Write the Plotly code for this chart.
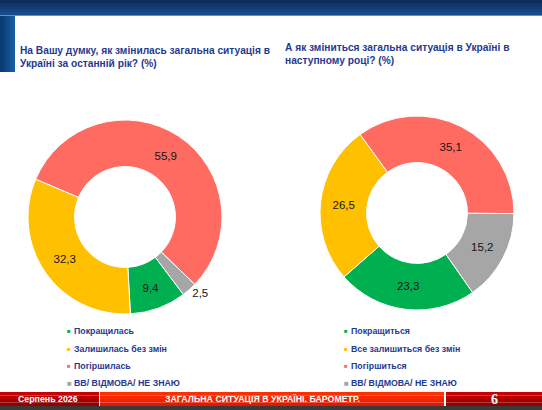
import plotly.graph_objects as go

W, H = 542, 410

# Data
labels_left = ["Покращилась", "Залишилась без змін", "Погіршилась", "ВВ/ ВІДМОВА/ НЕ ЗНАЮ"]
values_left = [9.4, 32.3, 55.9, 2.5]
labels_right = ["Покращиться", "Все залишиться без змін", "Погіршиться", "ВВ/ ВІДМОВА/ НЕ ЗНАЮ"]
values_right = [23.3, 26.5, 35.1, 15.2]
colors = ["#00B050", "#FFC000", "#FF6B61", "#A6A6A6"]

title_left = "На Вашу думку, як змінилась загальна ситуація в<br>Україні за останній рік? (%)"
title_right = "А як зміниться загальна ситуація в Україні в<br>наступному році? (%)"
footer_left = "Серпень 2026"
footer_mid = "ЗАГАЛЬНА СИТУАЦІЯ В УКРАЇНІ. БАРОМЕТР."
page_num = "6"

FONT = "Liberation Sans, Arial, sans-serif"
NAVY = "#1F3A8F"


def px(x):
    return x / W


def py(y):
    return 1 - y / H


def fmt(v):
    return f"{v:.1f}".replace(".", ",")


fig = go.Figure()

fig.add_trace(go.Pie(
    labels=labels_left, values=values_left, sort=False,
    direction="clockwise", rotation=143, hole=0.52,
    marker=dict(colors=colors, line=dict(color="white", width=1)),
    text=[fmt(v) for v in values_left], textinfo="text",
    textposition=["inside", "inside", "inside", "outside"],
    insidetextorientation="horizontal",
    textfont=dict(family=FONT, size=11.5, color="#151515"),
    domain=dict(x=[px(28), px(222)], y=[py(314), py(120)]),
    hoverinfo="label+value",
))

fig.add_trace(go.Pie(
    labels=labels_right, values=values_right, sort=False,
    direction="clockwise", rotation=145, hole=0.52,
    marker=dict(colors=colors, line=dict(color="white", width=1)),
    text=[fmt(v) for v in values_right], textinfo="text",
    textposition="inside",
    insidetextorientation="horizontal",
    textfont=dict(family=FONT, size=11.5, color="#151515"),
    domain=dict(x=[px(320), px(514)], y=[py(310), py(116)]),
    hoverinfo="label+value",
))

shapes = []


def rect(x0, y0, x1, y1, color):
    shapes.append(dict(type="rect", xref="paper", yref="paper",
                       x0=px(x0), x1=px(x1), y0=py(y1), y1=py(y0),
                       fillcolor=color, line=dict(width=0), layer="above"))


# header bar (rough gradient with stripes)
header_cols = ["#0b2d5a", "#0e3566", "#113d72", "#14457e", "#174d8a"]
for i, c in enumerate(header_cols):
    rect(0, i * 3, W, i * 3 + 3, c)
rect(0, 15, W, 16, "#5d8fc9")
side_cols = ["#093a73", "#0c427e", "#104a89", "#145394", "#185b9e"]
for i, c in enumerate(side_cols):
    rect(i * 3, 16, i * 3 + 3, 72, c)

# footer
foot_l = ["#c80000", "#b80000", "#a50000", "#900000"]
foot_m = ["#ff3000", "#f82800", "#ee2000", "#e01a00"]
for i in range(4):
    y0 = 392 + i * 3.5
    rect(0, y0, 99, y0 + 3.5, foot_l[i])
    rect(100, y0, 444, y0 + 3.5, foot_m[i])
    rect(446, y0, W, y0 + 3.5, foot_l[i])
rect(99, 392, 100, 406, "#ffffff")
rect(444, 392, 446, 406, "#ffffff")
rect(0, 406, W, H, "#3a3a3a")

annotations = []


def note(x, y, text, size=10, color=NAVY, xanchor="left", family=FONT):
    annotations.append(dict(x=px(x), y=py(y), xref="paper", yref="paper",
                            text=text, showarrow=False, xanchor=xanchor,
                            yanchor="middle", align="left",
                            font=dict(family=family, size=size, color=color)))


note(18, 57, f"<b>{title_left}</b>", size=10.2)
note(283, 54, f"<b>{title_right}</b>", size=10.2)

legend_rows = [331, 349, 366, 383]
for labels, xm, xt in [(labels_left, 69, 72), (labels_right, 346, 349)]:
    for i, lab in enumerate(labels):
        note(xm, legend_rows[i], "■", size=6 if i < 3 else 8,
             color=colors[i], xanchor="center")
        note(xt, legend_rows[i], f"<b>{lab}</b>", size=8.8)

note(48, 399, f"<b>{footer_left}</b>", size=8.8, color="white", xanchor="center")
note(262, 399, f"<b>{footer_mid}</b>", size=8.8, color="white", xanchor="center")
note(494, 399, f"<b>{page_num}</b>", size=14, color="white", xanchor="center",
     family="Liberation Serif, Times New Roman, serif")

fig.update_layout(
    width=W, height=H,
    margin=dict(l=0, r=0, t=0, b=0),
    paper_bgcolor="white", plot_bgcolor="white",
    showlegend=False,
    shapes=shapes, annotations=annotations,
)

fig.write_html("out.html", config={"displayModeBar": False},
               post_script="document.body.style.margin='0px';")
